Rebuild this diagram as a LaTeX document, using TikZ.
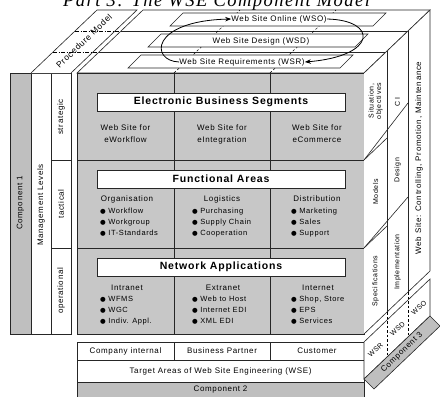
\documentclass[tikz,border=0pt]{standalone}
\usepackage{fontspec}
\setmainfont{Liberation Sans}[LetterSpace=8]
\newfontfamily\titlefont{Liberation Serif}[LetterSpace=8]
\newfontfamily\bulfont{DejaVu Sans}
\usetikzlibrary{arrows.meta}
\definecolor{facegray}{gray}{0.78}
\definecolor{compgray}{gray}{0.75}
\newcommand{\bl}{{\bulfont\fontsize{6.5}{6.5}\selectfont ●}\hspace{2.5pt}}
\begin{document}
\begin{tikzpicture}[x=1pt,y=-1pt,
  ln/.style={line width=0.6pt,draw=black!85},
  lbl/.style={font=\fontsize{8}{12}\selectfont,align=center,inner sep=0pt},
  small/.style={font=\fontsize{7}{7.5}\selectfont,align=center,inner sep=0pt},
  hdr/.style={draw=black!85,line width=0.6pt,fill=white,font=\bfseries\fontsize{10.5}{12}\selectfont,minimum width=248pt,minimum height=18pt,inner sep=0pt},
  blist/.style={font=\fontsize{7.5}{11}\selectfont,align=left,anchor=north west,inner sep=0pt},
  plane/.style={draw=black!85,line width=0.6pt,fill=white},
  dd/.style={line width=0.5pt,dash pattern=on 4pt off 1.5pt on 1pt off 1.5pt},
  hid/.style={line width=0.5pt,dash pattern=on 2.5pt off 2pt},
  rot/.style={rotate=90},
  diag/.style={rotate=43.7},
  arr/.style={line width=0.8pt,-{Stealth[length=6pt,width=4.5pt]}},
]
\fill[white] (0,0) rectangle (440,397);
\useasboundingbox (0,0) rectangle (440,397);

% title (cut at the top)
\node[anchor=base west,inner sep=0pt,font=\titlefont\itshape\fontsize{18.5}{18.5}\selectfont] (title) at (63,6) {Part 3: The WSE Component Model};

% ---- left columns
\fill[compgray] (10,73) rectangle (31,334);
\draw[ln] (10,73) rectangle (31,334);
\draw[ln] (31,73) rectangle (51,334);
\draw[ln] (51,73) rectangle (71,334);
\draw[ln] (51,160) -- (71,160);
\draw[ln] (51,248) -- (71,248);
\node[lbl,rot] (c1) at (20.5,203) {Component 1};
\node[lbl,rot] (ml) at (41,205) {Management Levels};
\node[lbl,rot] (st) at (61,117) {strategic};
\node[lbl,rot] (ta) at (61,204) {tactical};
\node[lbl,rot] (op) at (61,291) {operational};

% procedure model panel
\draw[ln,fill=white] (31,73) -- (97,10) -- (137,10) -- (71,73);
\draw[dd] (53,52) -- (99,52);
\draw[dd] (75,31) -- (121,31);
\node[lbl,diag,font=\fontsize{8.5}{10}\selectfont] (pm) at (84,41) {Procedure Model};

% ---- top face
\draw[ln,fill=white] (77,73) -- (364,73) -- (430,10) -- (143,10) -- cycle;
\draw[ln] (99,52) -- (386,52);
\draw[ln] (121,31) -- (408,31);
\draw[hid] (174,73) -- (240,10);
\draw[hid] (270,73) -- (336,10);

\draw[plane] (128,68) -- (141,55) -- (353,55) -- (340,68) -- cycle;
\draw[plane] (148,47) -- (161,34) -- (368,34) -- (355,47) -- cycle;
\draw[plane] (170,26) -- (183,13) -- (386,13) -- (373,26) -- cycle;
\node[lbl] (wsr) at (242,62) {Web Site Requirements (WSR)};
\node[lbl] (wsd) at (261,41) {Web Site Design (WSD)};
\node[lbl] (wso) at (279,19) {Web Site Online (WSO)};
\draw[arr] (wsr.west) .. controls (150,61) and (150,21) .. (wso.west);
\draw[arr] (wso.east) .. controls (378,20) and (378,56) .. (wsr.east);

% ---- front face
\fill[facegray] (77,73) rectangle (364,334);
\draw[ln] (77,73) rectangle (364,334);
\draw[ln] (77,160) -- (364,160);
\draw[ln] (77,248) -- (364,248);
\draw[ln] (174,73) -- (174,334);
\draw[ln] (270,73) -- (270,334);

\node[hdr] (ebs) at (221,102) {Electronic Business Segments};
\node[hdr] (fa) at (221,179) {Functional Areas};
\node[hdr] (na) at (221,267) {Network Applications};

\node[lbl] (e1) at (125.5,134) {Web Site for\\eWorkflow};
\node[lbl] (e2) at (222,134) {Web Site for\\eIntegration};
\node[lbl] (e3) at (317,134) {Web Site for\\eCommerce};

\node[lbl] (f1) at (127,199) {Organisation};
\node[lbl] (f2) at (222,199) {Logistics};
\node[lbl] (f3) at (317,199) {Distribution};
\node[blist] (b1) at (100,208) {\bl Workflow\\\bl Workgroup\\\bl IT-Standards};
\node[blist] (b2) at (192,208) {\bl Purchasing\\\bl Supply Chain\\\bl Cooperation};
\node[blist] (b3) at (291,208) {\bl Marketing\\\bl Sales\\\bl Support};

\node[lbl] (n1) at (127,288) {Intranet};
\node[lbl] (n2) at (223,288) {Extranet};
\node[lbl] (n3) at (318,288) {Internet};
\node[blist] (d1) at (100,296) {\bl WFMS\\\bl WGC\\\bl Indiv. Appl.};
\node[blist] (d2) at (192,296) {\bl Web to Host\\\bl Internet EDI\\\bl XML EDI};
\node[blist] (d3) at (291,296) {\bl Shop, Store\\\bl EPS\\\bl Services};

% ---- bottom rows
\draw[ln,fill=white] (77,342) rectangle (364,360);
\draw[ln] (174,342) -- (174,360);
\draw[ln] (270,342) -- (270,360);
\draw[ln,fill=white] (77,360) rectangle (364,382);
\fill[compgray] (77,382) rectangle (364,400);
\draw[ln] (77,400) -- (77,382) -- (364,382) -- (364,400);
\node[lbl] (t1) at (125.5,351) {Company internal};
\node[lbl] (t2) at (222,351) {Business Partner};
\node[lbl] (t3) at (317,351) {Customer};
\node[lbl] (tw) at (220.5,371) {Target Areas of Web Site Engineering (WSE)};
\node[lbl] (c2) at (220.5,390) {Component 2};

% ---- right face
\fill[white] (364,73) -- (430,10) -- (430,271) -- (364,334) -- cycle;
\draw[ln] (364,73) -- (430,10) -- (430,271) -- (364,334);
\draw[ln] (387,51) -- (387,312);
\draw[ln] (408,31) -- (408,292);
\draw[ln] (364,160) -- (387,138);
\draw[ln] (364,248) -- (387,226);
\draw[ln] (364,160) -- (408,103);
\draw[ln] (364,248) -- (408,197);
\node[small,rot] (so) at (375.5,101) {Situation,\\objectives};
\node[small,rot] (ci) at (397.5,102) {C I};
\node[small,rot] (mo) at (375.5,192) {Models};
\node[small,rot] (de) at (397.5,170) {Design};
\node[small,rot] (sp) at (375.5,281) {Specifications};
\node[small,rot] (im) at (397.5,262) {Implementation};
\node[lbl,rot] (wc) at (419,158) {Web Site: Controlling, Promotion, Maintenance};

% band below right face
\draw[ln,fill=white] (364,342) -- (430,279) -- (430,316) -- (364,379) -- cycle;
\draw[hid] (387,312) -- (387,357);
\draw[hid] (408,292) -- (408,337);
\node[small,diag] (r1) at (375.5,350) {WSR};
\node[small,diag] (r2) at (397.5,329) {WSD};
\node[small,diag] (r3) at (419,308) {WSO};

% component 3
\draw[ln,fill=compgray] (364,379) -- (430,316) -- (440,326) -- (374,389) -- cycle;
\node[lbl,diag] (c3) at (402,352.5) {Component 3};
\end{tikzpicture}
\end{document}
